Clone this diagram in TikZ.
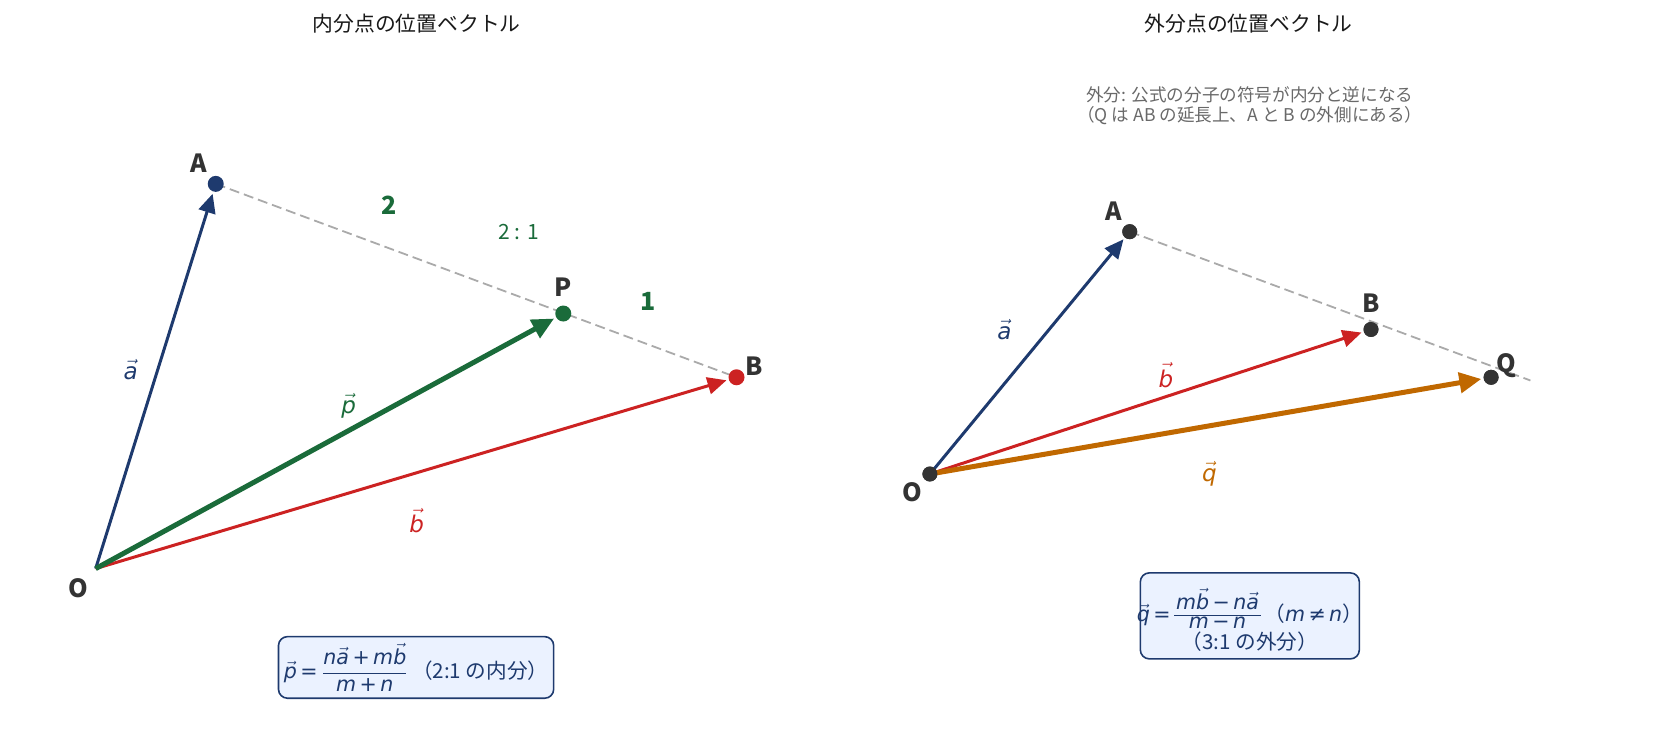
\documentclass[tikz,border=0pt]{standalone}
\usepackage{amsmath}
\usepackage{fontspec}
\setmainfont{Noto Sans CJK JP}
\newfontfamily\dvi{DejaVu Sans}[ItalicFont={DejaVu Sans Oblique}]
\usetikzlibrary{arrows.meta}
\definecolor{cblue}{RGB}{30,58,110}
\definecolor{cgreen}{RGB}{26,107,58}
\definecolor{cred}{RGB}{204,34,34}
\definecolor{corange}{RGB}{192,104,0}
\definecolor{cgray}{RGB}{170,170,170}
\definecolor{cdark}{RGB}{51,51,51}
\definecolor{cnote}{RGB}{105,105,105}
\definecolor{cbox}{RGB}{235,242,255}
\newcommand\mv[1]{\mbox{\dvi\itshape #1}}
\newcommand\mop[1]{\mbox{\,\dvi #1\,}}
\newcommand\tightfrac[2]{\raisebox{-3.4pt}{\renewcommand\arraystretch{0.75}\setlength\arrayrulewidth{0.5pt}\begin{tabular}[b]{@{\hspace{1pt}}c@{\hspace{1pt}}}#1\\\hline #2\end{tabular}}}
\begin{document}
\begin{tikzpicture}[x=0.5314pt,y=-0.5314pt,
  vecline/.style={line width=1.5pt,-{Triangle[length=9.5pt,width=8.5pt]},shorten >=1pt},
  thickvec/.style={line width=2.5pt,-{Triangle[length=11pt,width=10pt]},shorten >=1pt},
  dashline/.style={cgray,line width=0.9pt,dash pattern=on 5pt off 2.5pt},
  dot/.style={circle,inner sep=0pt,minimum size=8pt},
  rdot/.style={circle,inner sep=0pt,minimum size=7.5pt,fill=cdark},
  ptlabel/.style={font=\fontsize{12.5}{14}\selectfont\bfseries,text=cdark},
  veclabel/.style={font=\fontsize{11.5}{13}\selectfont},
  title/.style={font=\fontsize{10.4}{12}\selectfont,text=black!90},
  formbox/.style={draw=cblue,fill=cbox,rounded corners=4.5pt,line width=0.8pt},
  formtext/.style={text=cblue,font=\fontsize{10.3}{12}\selectfont,inner sep=0pt}
]
\useasboundingbox (0,0) rectangle (1561,685);
% ---------- left panel ----------
\node[title] (t1) at (392,22) {内分点の位置ベクトル};
\coordinate (O1) at (90,535);
\node[dot] (A1) at (203,173) {};
\node[dot] (P1) at (530,295) {};
\node[dot] (B1) at (693,355) {};
\draw[dashline] (A1.center) -- (B1.center);
\draw[vecline,cblue] (O1) -- (A1);
\draw[vecline,cred] (O1) -- (B1);
\draw[thickvec,cgreen] (O1) -- (P1);
\fill[cblue] (A1) circle[radius=4pt];
\fill[cgreen] (P1) circle[radius=4pt];
\fill[cred] (B1) circle[radius=4pt];
\node[ptlabel] (lA1) at (187,154) {A};
\node[ptlabel] (lP1) at (530,270) {P};
\node[ptlabel] (lB1) at (710,345) {B};
\node[ptlabel] (lO1) at (74,553) {O};
\node[font=\fontsize{12.5}{14}\selectfont\bfseries,text=cgreen] (r2) at (366,193) {2};
\node[font=\fontsize{10.5}{12}\selectfont,text=cgreen] (r21) at (488,218) {2 : 1};
\node[font=\fontsize{12.5}{14}\selectfont\bfseries,text=cgreen] (r1) at (610,284) {1};
\node[veclabel,text=cblue] (va1) at (123,348) {$\vec{\mv{a}}$};
\node[veclabel,text=cgreen] (vp1) at (328,382) {$\vec{\mv{p}}$};
\node[veclabel,text=cred] (vb1) at (392,490) {$\vec{\mv{b}}$};
\node[formbox,minimum width=137.6pt,minimum height=30.8pt] (f1) at (391.5,628) {};
\node[formtext] (f1t) at (391.5,628)
  {$\vec{\mv{p}}\mop{=}\dfrac{\mv{n}\vec{\mv{a}}\mop{+}\mv{m}\vec{\mv{b}}}{\mv{m}\mop{+}\mv{n}}$\,（2:1 の内分）};
% ---------- right panel ----------
\node[title] (t2) at (1175,22) {外分点の位置ベクトル};
\node[font=\fontsize{8.8}{10}\selectfont,text=cnote,align=center] (note) at (1176,99)
  {外分: 公式の分子の符号が内分と逆になる\\（Q は AB の延長上、A と B の外側にある）};
\node[rdot] (O2) at (875,446) {};
\node[rdot] (A2) at (1063,218) {};
\node[rdot] (B2) at (1290,310) {};
\node[rdot] (Q2) at (1403,355) {};
\coordinate (E2) at (1440,358);
\draw[dashline] (A2.center) -- (E2);
\draw[vecline,cblue] (O2.center) -- (A2);
\draw[vecline,cred] (O2.center) -- (B2);
\draw[thickvec,corange] (O2.center) -- (Q2);
\foreach \p in {O2,A2,B2,Q2} \fill[cdark] (\p) circle[radius=3.75pt];
\node[ptlabel] (lA2) at (1048,199) {A};
\node[ptlabel] (lB2) at (1290,285) {B};
\node[ptlabel] (lQ2) at (1417,344) {Q};
\node[ptlabel] (lO2) at (858,463) {O};
\node[veclabel,text=cblue] (va2) at (945,310) {$\vec{\mv{a}}$};
\node[veclabel,text=cred] (vb2) at (1097,353) {$\vec{\mv{b}}$};
\node[veclabel,text=corange] (vq2) at (1138,446) {$\vec{\mv{q}}$};
\node[formbox,minimum width=109.5pt,minimum height=43pt] (f2) at (1176,579.5) {};
\node[formtext] (f2a) at (1176,575)
  {$\vec{\mv{q}}\mop{=}$\tightfrac{$\mv{m}\vec{\mv{b}}\mop{−}\mv{n}\vec{\mv{a}}$}{$\mv{m}\mop{−}\mv{n}$}\,（$\mv{m}\mop{≠}\mv{n}$）};
\node[formtext] (f2b) at (1176,604) {（3:1 の外分）};
\end{tikzpicture}
\end{document}
